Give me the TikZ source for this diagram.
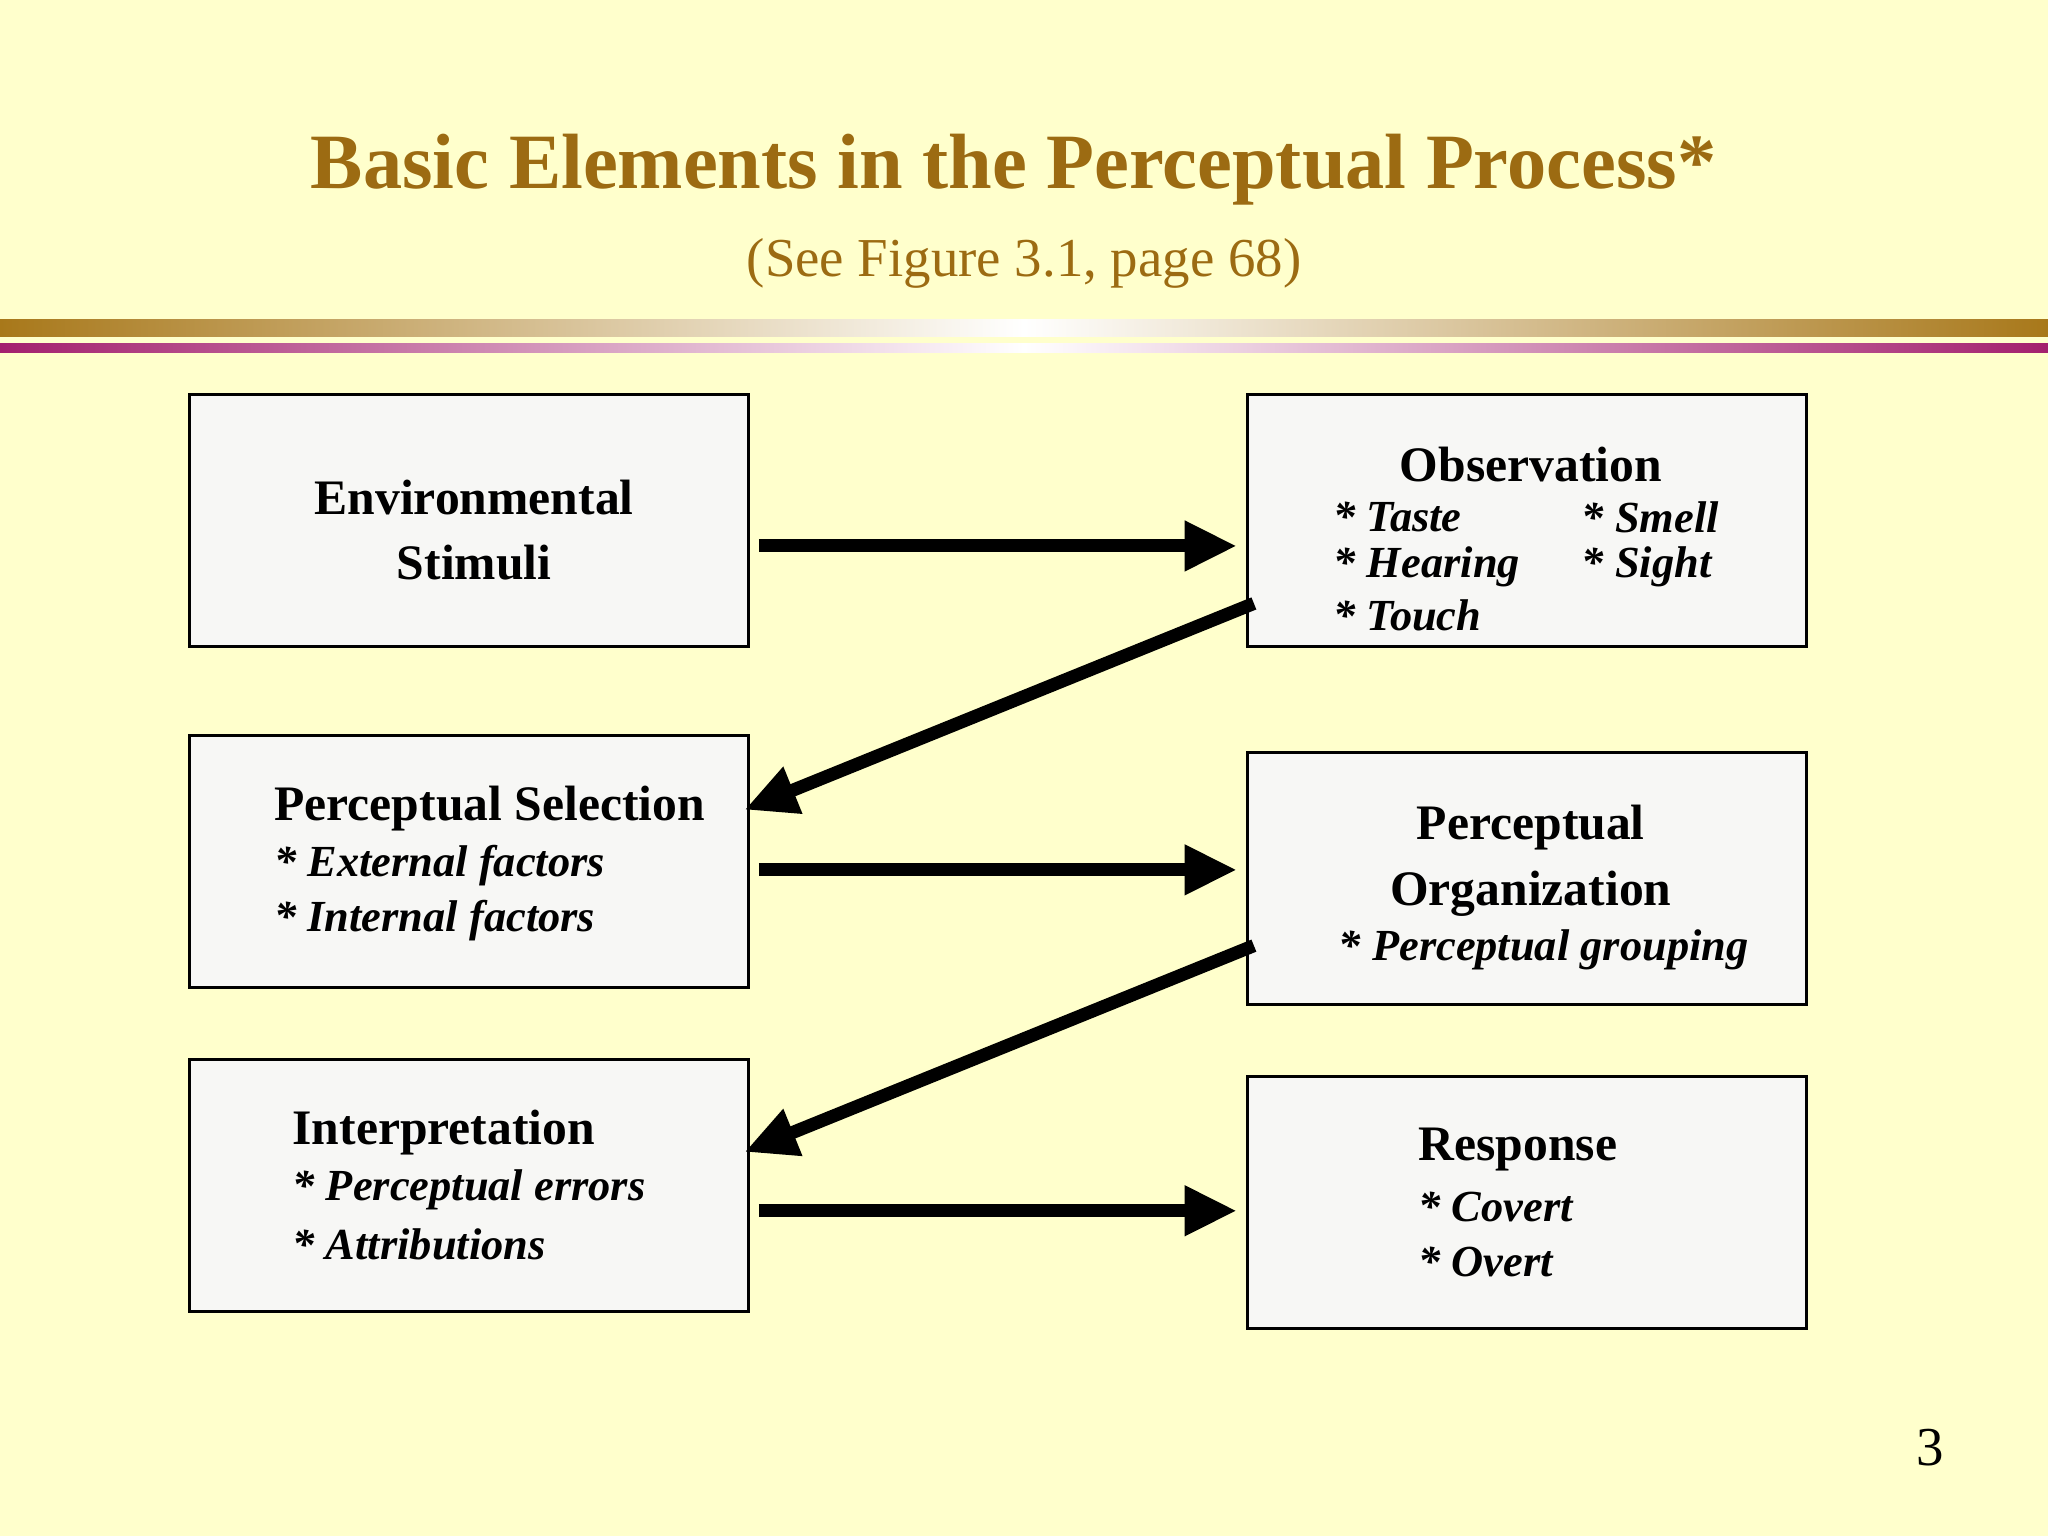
\documentclass[tikz,border=0pt]{standalone}
\usepackage{fontspec}
\setmainfont{Liberation Serif}
\usetikzlibrary{arrows.meta}
\definecolor{bg}{HTML}{FFFFCC}
\definecolor{gold}{HTML}{9C6B12}
\definecolor{band}{HTML}{A8781A}
\definecolor{mag}{HTML}{A3206E}
\definecolor{boxf}{HTML}{F7F7F5}
\begin{document}
\begin{tikzpicture}[x=0.5pt,y=-0.5pt,
  bx/.style={draw=black,line width=1pt,fill=boxf},
  hd/.style={font=\fontsize{19}{22}\selectfont\bfseries,align=center},
  it/.style={font=\fontsize{17}{20}\selectfont\bfseries\itshape,anchor=west},
  arr/.style={line width=5pt,-{Triangle[length=20pt,width=18pt]}}]
\fill[bg] (0,0) rectangle (1568,1176);
\useasboundingbox (0,0) rectangle (1568,1176);
\node[font=\fontsize{30}{34}\selectfont\bfseries,text=gold] (title) at (776,130) {Basic Elements in the Perceptual Process*};
\node[font=\fontsize{21}{24}\selectfont,text=gold] (sub) at (784,202) {(See Figure 3.1, page 68)};
\shade[left color=band,right color=band,middle color=white] (0,245) rectangle (1568,258);
\shade[left color=mag,right color=white] (0,263) rectangle (784,270);
\shade[left color=white,right color=mag] (784,263) rectangle (1568,270);
\draw[bx] (145,302) rectangle (573,495);
\draw[bx] (145,563) rectangle (573,756);
\draw[bx] (145,811) rectangle (573,1004);
\draw[bx] (955,302) rectangle (1383,495);
\draw[bx] (955,576) rectangle (1383,769);
\draw[bx] (955,824) rectangle (1383,1017);
\node[hd] (env) at (363,406) {Environmental\\[3pt]Stimuli};
\node[hd] (obs) at (1172,356) {Observation};
\node[it] (o1) at (1014,396) {* Taste};
\node[it] (o2) at (1204,396) {* Smell};
\node[it] (o3) at (1014,434) {* Hearing};
\node[it] (o4) at (1204,434) {* Sight};
\node[it] (o5) at (1014,471) {* Touch};
\node[hd,anchor=west] (sel) at (203,619) {Perceptual Selection};
\node[it] (s1) at (203,663) {* External factors};
\node[it] (s2) at (203,705) {* Internal factors};
\node[hd] (org) at (1172,659) {Perceptual\\[3pt]Organization};
\node[it] (g1) at (1018,727) {* Perceptual grouping};
\node[hd,anchor=west] (int) at (217,867) {Interpretation};
\node[it] (i1) at (217,911) {* Perceptual errors};
\node[it] (i2) at (217,953) {* Attributions};
\node[hd,anchor=west] (res) at (1079,880) {Response};
\node[it] (r1) at (1079,924) {* Covert};
\node[it] (r2) at (1079,966) {* Overt};
\node[font=\fontsize{21}{24}\selectfont] (num) at (1478,1108) {3};
\coordinate (a1) at (581,418); \coordinate (b1) at (947,418);
\coordinate (a2) at (581,666); \coordinate (b2) at (947,666);
\coordinate (a3) at (581,927); \coordinate (b3) at (947,927);
\coordinate (d1) at (960,462); \coordinate (e1) at (570,620);
\coordinate (d2) at (960,724); \coordinate (e2) at (570,882);
\draw[arr] (a1) -- (b1);
\draw[arr] (a2) -- (b2);
\draw[arr] (a3) -- (b3);
\draw[arr] (d1) -- (e1);
\draw[arr] (d2) -- (e2);
\end{tikzpicture}
\end{document}
